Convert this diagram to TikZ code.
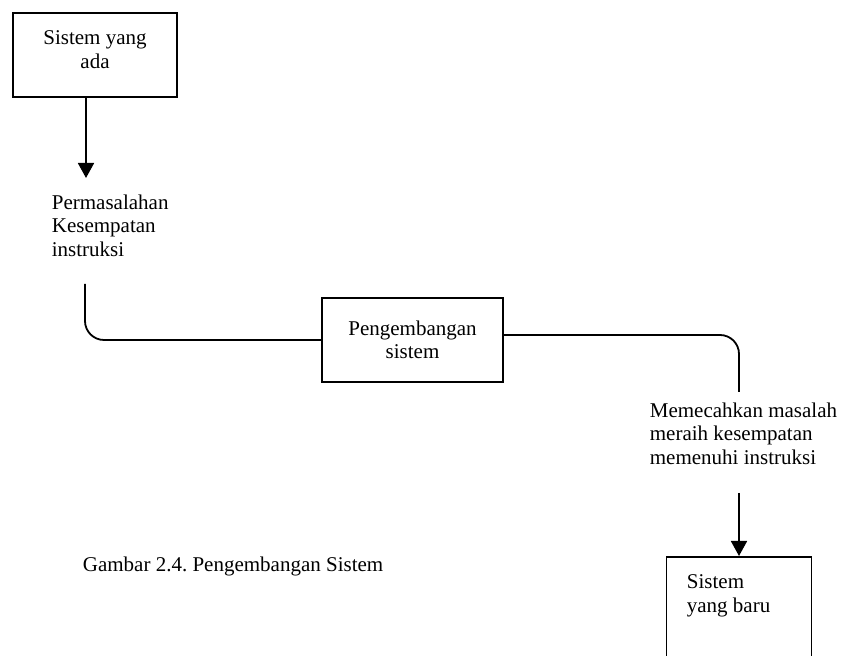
\documentclass[tikz,border=0pt]{standalone}
\usepackage{fontspec}
\setmainfont{Liberation Serif}
\usetikzlibrary{arrows.meta, positioning}
\tikzset{>={Triangle[length=7.5pt, width=8pt]}}
\tikzset{kotak/.style={draw, line width=0.9pt, inner sep=0pt}, teks/.style={inner sep=0pt, font=\fontsize{10.5}{11.75}\selectfont}}
\frenchspacing

\begin{document}
\begin{tikzpicture}[x=0.5pt, y=-0.5pt, line width=0.9pt]
	\useasboundingbox (0,0) rectangle (841,656);
	\clip (0,0) rectangle (841,656);

	\node[kotak, minimum width=82pt, minimum height=42pt] (ada) at (95,55) {};
	\node[teks, align=center, anchor=north] (adatxt) at (95,30) {Sistem yang\\ada};
	\node[teks, align=left, anchor=north west] (masalah) at (51,194) {Permasalahan\\Kesempatan\\instruksi};
	\node[kotak, teks, align=center, minimum width=90.5pt, minimum height=42pt] (pusat) at (412.5,340) {Pengembangan\\sistem};
	\node[teks, align=left, anchor=north west] (solusi) at (649,402) {Memecahkan masalah\\meraih kesempatan\\memenuhi instruksi};
	\node[kotak, minimum width=72.5pt, minimum height=82pt, anchor=north] (baru) at (739,556) {};
	\node[teks, align=left, anchor=north west] (barutxt) at (686,574) {Sistem\\yang baru};
	\node[teks, anchor=west] (judul) at (82,566) {Gambar 2.4. Pengembangan Sistem};

	\coordinate (ujung1) at (86,178);
	\coordinate (awal1) at (85,284);
	\coordinate (akhir2) at (739,392);
	\coordinate (awal3) at (739,493);

	\draw[->] (ada.south -| ujung1) -- (ujung1);
	\draw[rounded corners=9.5pt] (awal1) |- (pusat.west);
	\draw[rounded corners=9.5pt] ([yshift=2.5pt]pusat.east) -| (akhir2);
	\draw[->] (awal3) -- (baru.north);
\end{tikzpicture}
\end{document}
